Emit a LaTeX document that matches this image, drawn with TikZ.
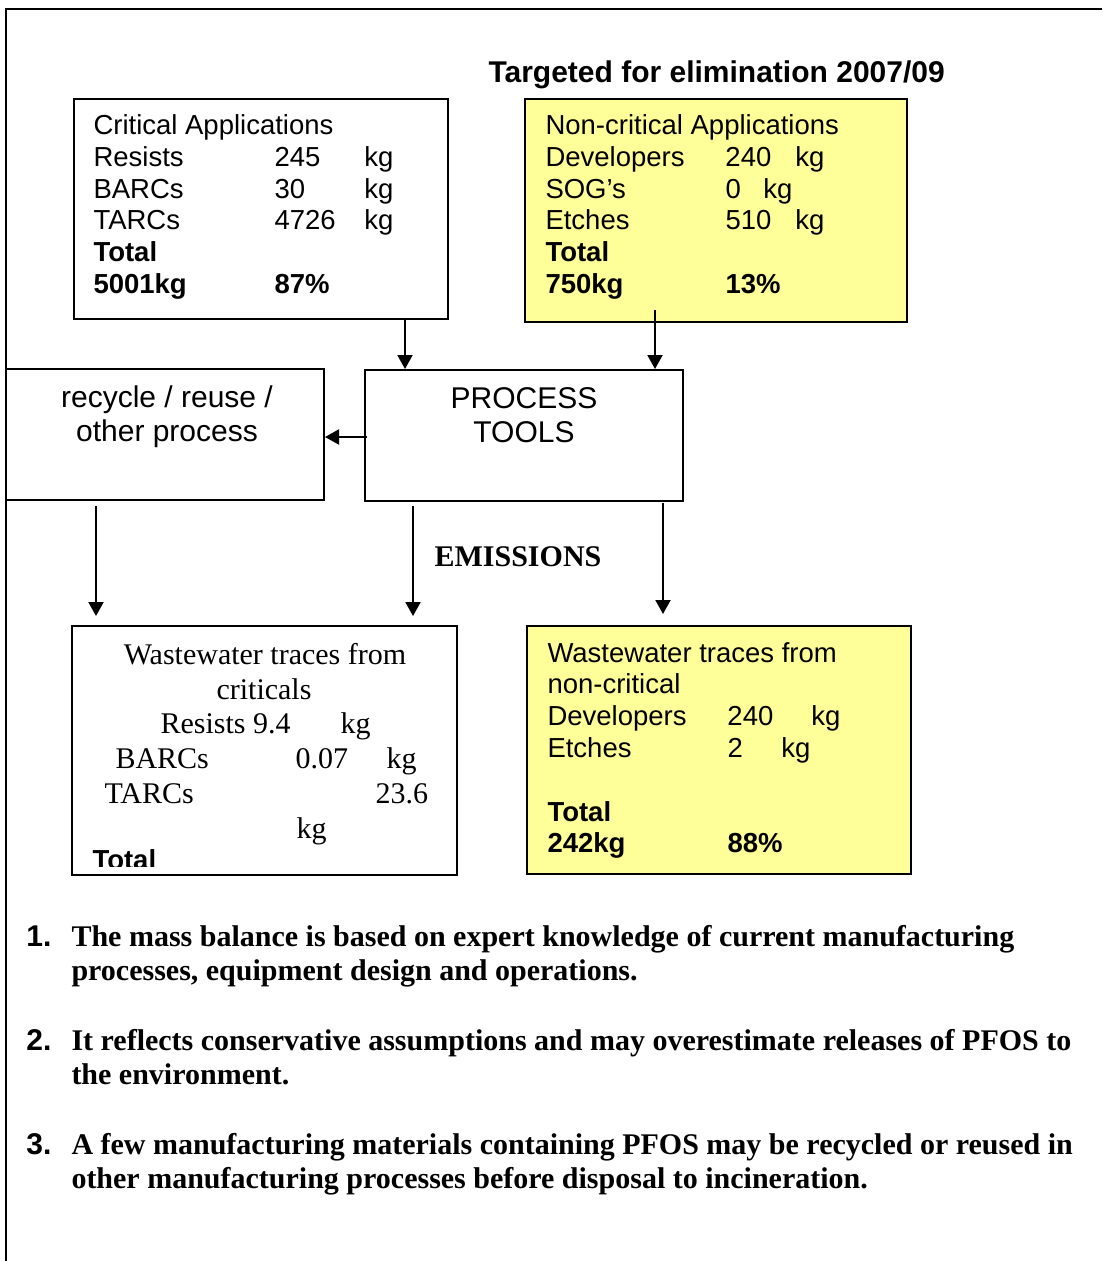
\documentclass[tikz,border=0pt]{standalone}
\usepackage{fontspec}
\setmainfont{Liberation Serif}
\setsansfont{Liberation Sans}
\usetikzlibrary{arrows.meta, fit}
\definecolor{noncritfill}{RGB}{255,255,153}
\setlength{\tabcolsep}{0pt}
\newcommand{\arialsmall}{\sffamily\fontsize{11}{12.72}\selectfont}
\newcommand{\arialbig}{\sffamily\fontsize{12}{13.8}\selectfont}
\newcommand{\timesbig}{\rmfamily\fontsize{12}{13.8}\selectfont}

\begin{document}
\begin{tikzpicture}[x=0.4pt,y=-0.4pt,>={Triangle[width=6pt,length=5.6pt]},
 box/.style={draw,line width=0.8pt,inner sep=0pt,fill=white},
 yellowbox/.style={box,fill=noncritfill},
 flow/.style={->,line width=0.8pt},
 smalltxt/.style={font=\arialsmall,inner sep=0pt,anchor=base west},
 bigtxt/.style={font=\arialbig,inner sep=0pt,anchor=base},
 serif txt/.style={font=\timesbig,inner sep=0pt,anchor=base west},
 note/.style={font=\timesbig\bfseries,inner sep=0pt,anchor=base west}]

  \useasboundingbox (0,0) rectangle (1102,1261);
  \draw[line width=0.8pt] (6,1261) -- (6,9) -- (1102,9);

  \node[bigtxt,anchor=base west,font=\arialbig\bfseries] (title) at (488,82) {Targeted for elimination 2007/09};

  \node[box,fit={(74,99) (448,319)}] (crit) {};
  \node[yellowbox,fit={(525,99) (907,322)}] (noncrit) {};
  \node[box,fit={(6,369) (324,500)}] (recycle) {};
  \node[box,fit={(365,370) (683,501)}] (tools) {};
  \node[box,fit={(72,626) (457,875)}] (waste crit) {};
  \node[yellowbox,fit={(527,626) (911,874)}] (waste noncrit) {};

  \node[smalltxt] (crit txt) at (93,134.5) {\begin{tabular}[t]{@{}p{72.4pt}p{36pt}l@{}}
    \multicolumn{3}{@{}l@{}}{Critical Applications}\\
    Resists & 245 & kg\\
    BARCs & 30 & kg\\
    TARCs & 4726 & kg\\
    \textbf{Total} & &\\
    \textbf{5001kg} & \textbf{87\%} &
  \end{tabular}};

  \node[smalltxt] (noncrit txt) at (545,134.5) {\begin{tabular}[t]{@{}p{72pt}p{28pt}l@{}}
    \multicolumn{3}{@{}l@{}}{Non-critical Applications}\\
    Developers & 240 & kg\\
    SOG’s & \multicolumn{2}{@{}l@{}}{\makebox[15.2pt][l]{0}kg}\\
    Etches & 510 & kg\\
    \textbf{Total} & &\\
    \textbf{750kg} & \textbf{13\%} &
  \end{tabular}};

  \node[bigtxt] (recycle txt) at (167,407) {\begin{tabular}[t]{c}recycle / reuse /\\other process\end{tabular}};
  \node[bigtxt] (tools txt) at (524,408) {\begin{tabular}[t]{c}PROCESS\\TOOLS\end{tabular}};

  \node[font=\timesbig\bfseries,inner sep=0pt] (emissions) at (518,557) {EMISSIONS};

  \node[serif txt,anchor=base] (wc1) at (265,664) {Wastewater traces from};
  \node[serif txt,anchor=base] (wc2) at (264,699) {criticals};
  \foreach \t/\px/\py [count=\i] in {{Resists 9.4}/160/733, kg/340/733, BARCs/115/768, 0.07/295/768,
    kg/386/768, TARCs/104/803, 23.6/375/803, kg/296/838}
    \node[serif txt] (wc row\i) at (\px,\py) {\t};
  \begin{scope}
    \clip (72,626) rectangle (457,866);
    \node[smalltxt] (wc total) at (92,869) {\textbf{Total}};
  \end{scope}

  \node[smalltxt] (noncrit waste txt) at (547,662) {\begin{tabular}[t]{@{}p{72pt}l@{}}
    \multicolumn{2}{@{}l@{}}{Wastewater traces from}\\
    non-critical &\\
    Developers & \makebox[33.6pt][l]{240}kg\\
    Etches & \makebox[21.6pt][l]{2}kg\\
    &\\
    \textbf{Total} &\\
    \textbf{242kg} & \textbf{88\%}
  \end{tabular}};

  \coordinate (colA) at (405,0);
  \coordinate (colB) at (655,0);
  \coordinate (colC) at (96,0);
  \coordinate (colD) at (413,0);
  \coordinate (colE) at (663,0);
  \coordinate (rowA) at (0,437);

  \draw[flow] (crit.south -| colA) -- (tools.north -| colA);
  \draw[flow,shorten <=-5.2pt] (noncrit.south -| colB) -- (tools.north -| colB);
  \draw[flow,shorten <=-1.2pt] (tools.west |- rowA) -- (recycle.east |- rowA);
  \draw[flow,shorten <=2pt,shorten >=3.6pt] (recycle.south -| colC) -- (waste crit.north -| colC);
  \draw[flow,shorten <=1.6pt,shorten >=3.6pt] (tools.south -| colD) -- (waste crit.north -| colD);
  \draw[flow,shorten <=0.4pt,shorten >=4.4pt] (tools.south -| colE) -- (waste noncrit.north -| colE);

  \foreach \n/\la/\lb [count=\i] in {
    1/{The mass balance is based on expert knowledge of current manufacturing}/{processes, equipment design and operations.},
    2/{It reflects conservative assumptions and may overestimate releases of PFOS to}/{the environment.},
    3/{A few manufacturing materials containing PFOS may be recycled or reused in}/{other manufacturing processes before disposal to incineration.}} {
    \node[smalltxt,font=\arialbig\bfseries] (num\i) at (26,842+104*\i) {\n.};
    \node[note] (note\i) at (71,842+104*\i) {\begin{tabular}[t]{@{}l@{}}\la\\\lb\end{tabular}};
  }
\end{tikzpicture}
\end{document}
